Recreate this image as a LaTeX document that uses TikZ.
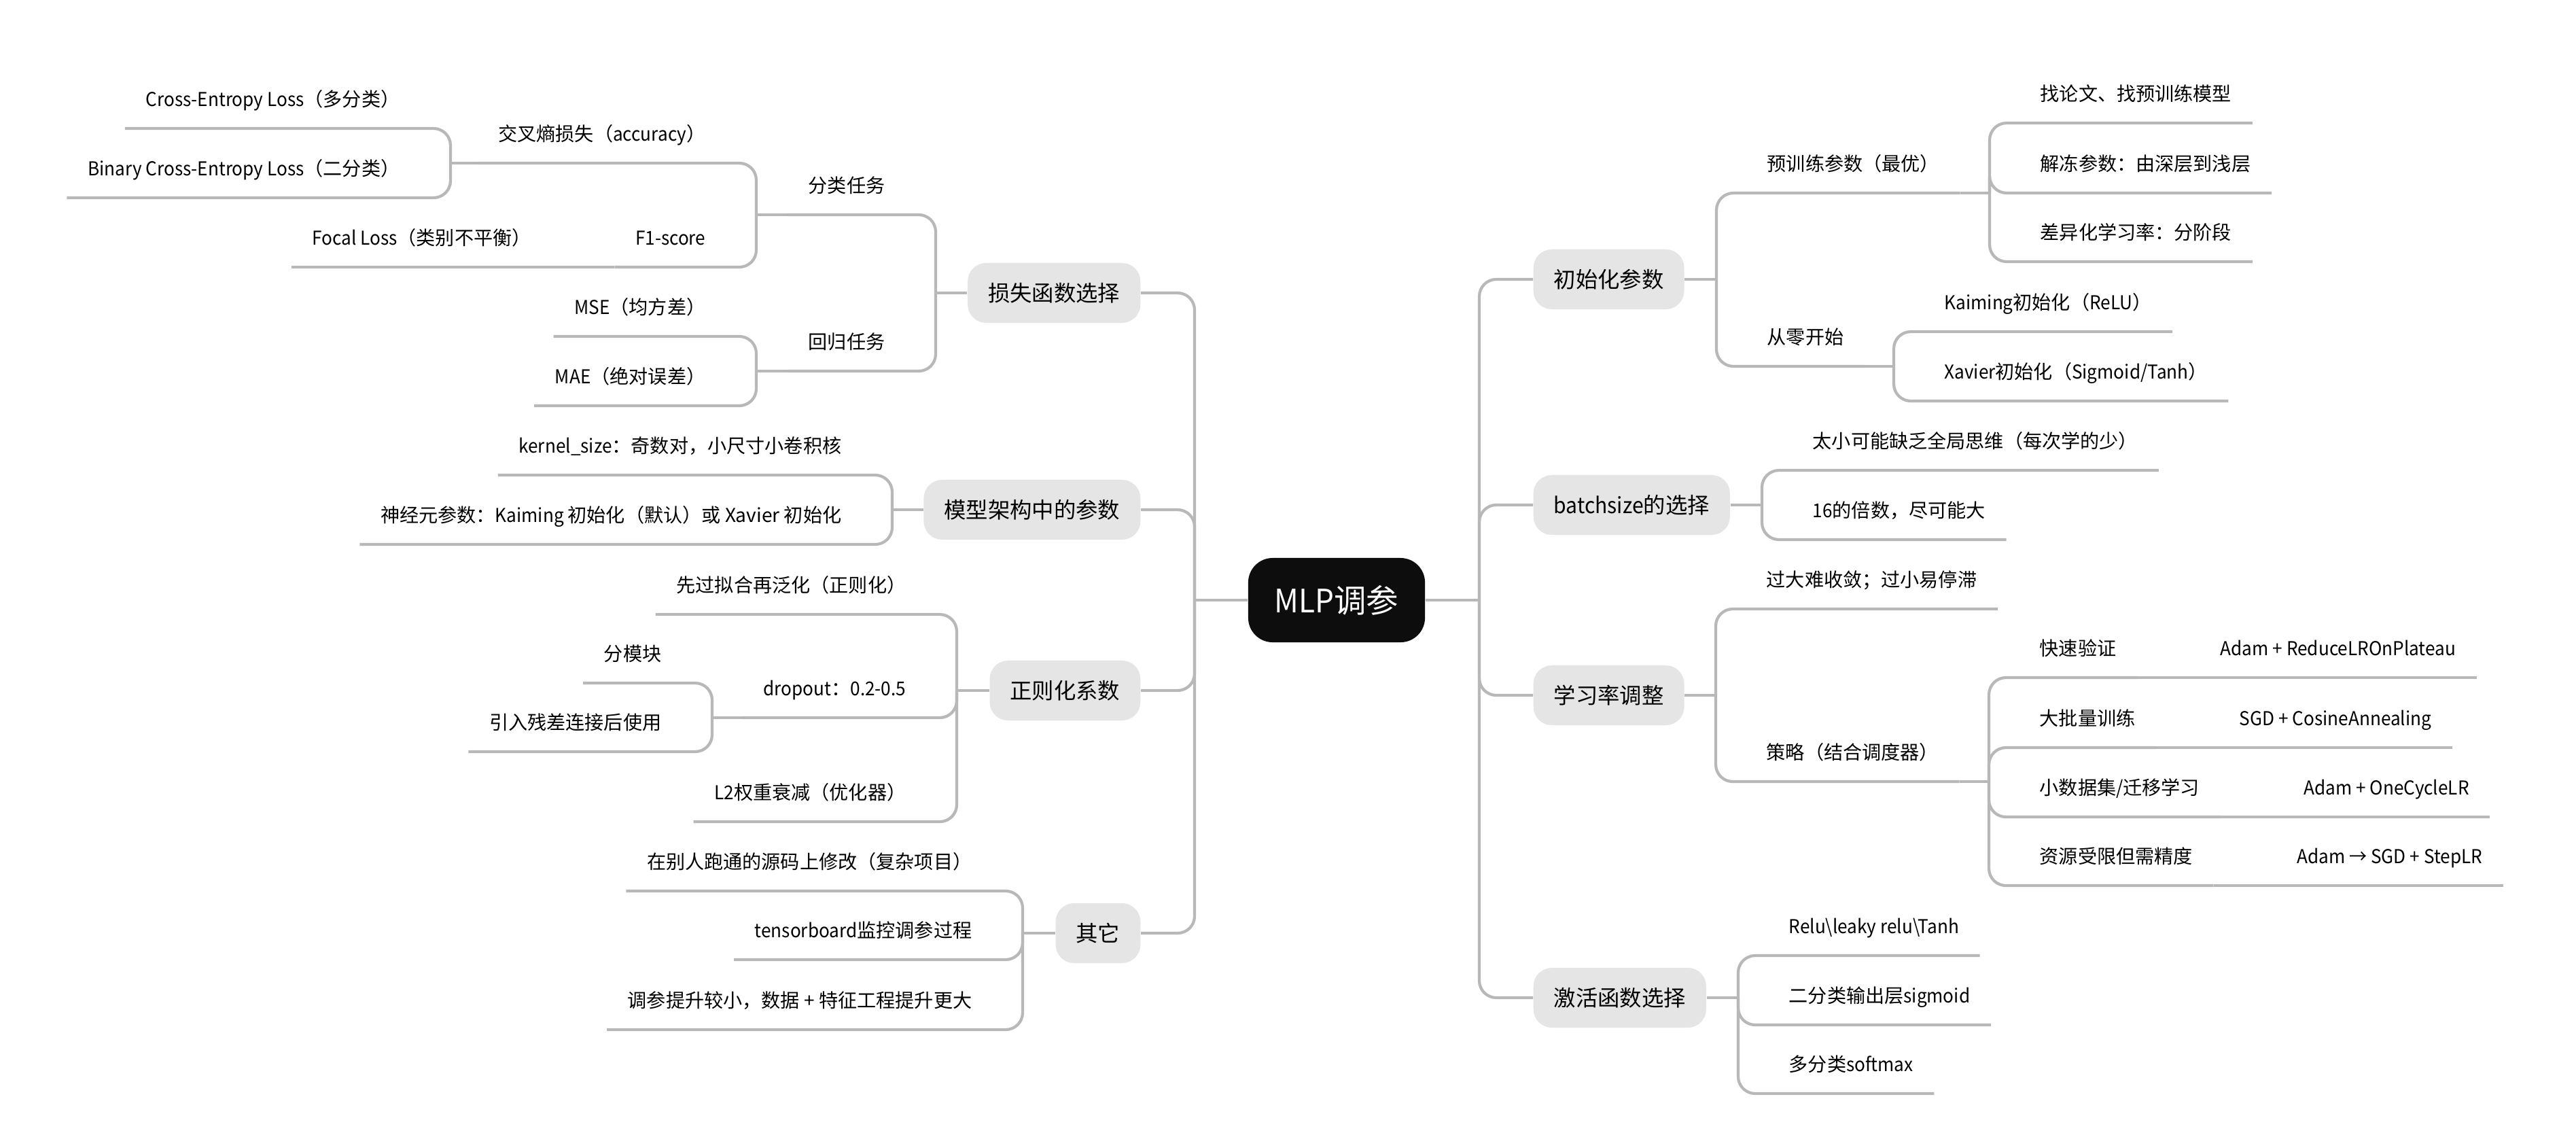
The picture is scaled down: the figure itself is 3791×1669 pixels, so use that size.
\documentclass[tikz,border=0pt]{standalone}
\usepackage{fontspec}
\setmainfont{Noto Sans CJK SC}[FakeStretch=0.93]
\newfontfamily\cjkfont{Noto Sans CJK SC}
\XeTeXinterchartokenstate=1
\newXeTeXintercharclass\cjkclass
\newcount\cjkcode
\cjkcode="3000
\loop\XeTeXcharclass\cjkcode=\cjkclass\advance\cjkcode by 1\relax\ifnum\cjkcode<"3040 \repeat
\cjkcode="4E00
\loop\XeTeXcharclass\cjkcode=\cjkclass\advance\cjkcode by 1\relax\ifnum\cjkcode<"A000 \repeat
\cjkcode="FF00
\loop\XeTeXcharclass\cjkcode=\cjkclass\advance\cjkcode by 1\relax\ifnum\cjkcode<"FF60 \repeat
\XeTeXinterchartoks 0 \cjkclass = {\cjkfont}
\XeTeXinterchartoks 4095 \cjkclass = {\cjkfont}
\XeTeXinterchartoks \cjkclass 0 = {\rmfamily}
\usetikzlibrary{positioning}
\definecolor{linegray}{HTML}{B8B8B8}
\definecolor{boxgray}{HTML}{E5E5E5}
\definecolor{rootblack}{HTML}{0D0D0D}

\begin{document}
\begin{tikzpicture}[
    x=0.01cm,y=-0.01cm,
    root/.style={rectangle,fill=rootblack,text=white,rounded corners=0.36cm,minimum width=2.6cm,minimum height=1.24cm,font=\fontsize{13.5}{16}\selectfont},
    topic/.style={rectangle,fill=boxgray,rounded corners=0.27cm,minimum height=0.88cm,inner xsep=0.3cm,font=\fontsize{9.2}{11}\selectfont},
    leaf/.style={inner xsep=0.3cm,inner ysep=9pt,text height=6.5pt,text depth=0pt,font=\fontsize{8}{10}\selectfont},
    rleaf/.style={leaf,anchor=south west},
    lleaf/.style={leaf,anchor=south east},
    branch/.style={draw=linegray,line width=1.2pt,rounded corners=0.25cm}
]
    \path[use as bounding box,fill=white] (0,0) rectangle (3791,1669);

    \node[root] (mlp) at (1967,883) {MLP调参};

    \node[topic,anchor=west] (init) at (2256,411) {初始化参数};
    \node[topic,anchor=west] (batch) at (2256,743) {batchsize的选择};
    \node[topic,anchor=west] (lr) at (2256,1023) {学习率调整};
    \node[topic,anchor=west] (act) at (2256,1468) {激活函数选择};

    \node[topic,anchor=east] (loss) at (1679,431) {损失函数选择};
    \node[topic,anchor=east] (arch) at (1679,750) {模型架构中的参数};
    \node[topic,anchor=east] (reg) at (1679,1016) {正则化系数};
    \node[topic,anchor=east] (misc) at (1679,1373) {其它};

    \coordinate (mlpR) at (2177,883);
    \coordinate (mlpL) at (1758,883);
    \coordinate (initJ) at (2526,411);
    \coordinate (preJ) at (2928,284);
    \coordinate (scratchJ) at (2787,539);
    \coordinate (batchJ) at (2593,743);
    \coordinate (lrJ) at (2525,1023);
    \coordinate (stratJ) at (2927,1150);
    \coordinate (actJ) at (2558,1468);
    \coordinate (lossJ) at (1377,431);
    \coordinate (clsJ) at (1113,316);
    \coordinate (ceJ) at (663,240);
    \coordinate (regrJ) at (1113,546);
    \coordinate (archJ) at (1313,750);
    \coordinate (regJ) at (1408,1016);
    \coordinate (dropJ) at (1048,1056);
    \coordinate (miscJ) at (1505,1373);

    \node[rleaf] (pre) at (2570,284) {预训练参数（最优）};
    \node[rleaf] (scratch) at (2570,539) {从零开始};
    \node[rleaf] (paper) at (2972,181) {找论文、找预训练模型};
    \node[rleaf] (unfreeze) at (2972,284) {解冻参数：由深层到浅层};
    \node[rleaf] (difflr) at (2972,385) {差异化学习率：分阶段};
    \node[rleaf] (kaiming) at (2831,488) {Kaiming初始化（ReLU）};
    \node[rleaf] (xavier) at (2831,590) {Xavier初始化（Sigmoid/Tanh）};
    \node[rleaf] (toosmall) at (2637,692) {太小可能缺乏全局思维（每次学的少）};
    \node[rleaf] (mult) at (2637,794) {16的倍数，尽可能大};
    \node[rleaf] (range) at (2569,896) {过大难收敛；过小易停滞};
    \node[rleaf] (strat) at (2569,1150) {策略（结合调度器）};
    \node[rleaf] (fast) at (2971,997) {快速验证};
    \node[rleaf,right=0.92cm of fast] (plateau) {Adam + ReduceLROnPlateau};
    \node[rleaf] (bigbatch) at (2971,1100) {大批量训练};
    \node[rleaf,right=0.92cm of bigbatch] (cosine) {SGD + CosineAnnealing};
    \node[rleaf] (smalldata) at (2971,1202) {小数据集/迁移学习};
    \node[rleaf,right=0.92cm of smalldata] (onecycle) {Adam + OneCycleLR};
    \node[rleaf] (limited) at (2971,1303) {资源受限但需精度};
    \node[rleaf,right=0.92cm of limited] (steplr) {Adam → SGD + StepLR};
    \node[rleaf] (relu) at (2602,1406) {Relu\textbackslash leaky relu\textbackslash Tanh};
    \node[rleaf] (sigmoid) at (2602,1508) {二分类输出层sigmoid};
    \node[rleaf] (softmax) at (2602,1609) {多分类softmax};

    \node[lleaf] (cls) at (1333,316) {分类任务};
    \node[lleaf] (regr) at (1333,546) {回归任务};
    \node[lleaf] (ce) at (1069,240) {交叉熵损失（accuracy）};
    \node[lleaf] (f1) at (1069,393) {F1-score};
    \node[lleaf,left=0.92cm of f1] (focal) {Focal Loss（类别不平衡）};
    \node[lleaf] (cemulti) at (619,189) {Cross-Entropy Loss（多分类）};
    \node[lleaf] (cebin) at (619,291) {Binary Cross-Entropy Loss（二分类）};
    \node[lleaf] (mse) at (1069,495) {MSE（均方差）};
    \node[lleaf] (mae) at (1069,597) {MAE（绝对误差）};
    \node[lleaf] (kernel) at (1269,699) {kernel\_size：奇数对，小尺寸小卷积核};
    \node[lleaf] (neuron) at (1269,801) {神经元参数：Kaiming 初始化（默认）或 Xavier 初始化};
    \node[lleaf] (overfit) at (1364,904) {先过拟合再泛化（正则化）};
    \node[lleaf] (dropout) at (1364,1056) {dropout：0.2-0.5};
    \node[lleaf] (l2) at (1364,1209) {L2权重衰减（优化器）};
    \node[lleaf] (module) at (1004,1005) {分模块};
    \node[lleaf] (resid) at (1004,1106) {引入残差连接后使用};
    \node[lleaf] (fork) at (1461,1311) {在别人跑通的源码上修改（复杂项目）};
    \node[lleaf] (tboard) at (1461,1412) {tensorboard监控调参过程};
    \node[lleaf] (gain) at (1461,1515) {调参提升较小，数据 + 特征工程提升更大};

    \draw[branch] (mlp.east) -- (mlpR);
    \foreach \n in {init,batch,lr,act} \draw[branch] (mlpR) |- (\n.west);
    \draw[branch] (mlp.west) -- (mlpL);
    \foreach \n in {loss,arch,reg,misc} \draw[branch] (mlpL) |- (\n.east);

    \draw[branch] (init.east) -- (initJ);
    \foreach \n in {pre,scratch} \draw[branch] (initJ) |- (\n.south east);
    \draw[branch] (pre.south east) -- (preJ);
    \foreach \n in {paper,unfreeze,difflr} \draw[branch] (preJ) |- (\n.south east);
    \draw[branch] (scratch.south east) -- (scratchJ);
    \foreach \n in {kaiming,xavier} \draw[branch] (scratchJ) |- (\n.south east);
    \draw[branch] (batch.east) -- (batchJ);
    \foreach \n in {toosmall,mult} \draw[branch] (batchJ) |- (\n.south east);
    \draw[branch] (lr.east) -- (lrJ);
    \foreach \n in {range,strat} \draw[branch] (lrJ) |- (\n.south east);
    \draw[branch] (strat.south east) -- (stratJ);
    \foreach \n in {fast,bigbatch,smalldata,limited} \draw[branch] (stratJ) |- (\n.south east);
    \foreach \a/\b in {fast/plateau,bigbatch/cosine,smalldata/onecycle,limited/steplr} \draw[branch] (\a.south east) -- (\b.south east);
    \draw[branch] (act.east) -- (actJ);
    \foreach \n in {relu,sigmoid,softmax} \draw[branch] (actJ) |- (\n.south east);

    \draw[branch] (loss.west) -- (lossJ);
    \foreach \n in {cls,regr} \draw[branch] (lossJ) |- (\n.south west);
    \draw[branch] (cls.south west) -- (clsJ);
    \foreach \n in {ce,f1} \draw[branch] (clsJ) |- (\n.south west);
    \draw[branch] (ce.south west) -- (ceJ);
    \foreach \n in {cemulti,cebin} \draw[branch] (ceJ) |- (\n.south west);
    \draw[branch] (f1.south west) -- (focal.south west);
    \draw[branch] (regr.south west) -- (regrJ);
    \foreach \n in {mse,mae} \draw[branch] (regrJ) |- (\n.south west);
    \draw[branch] (arch.west) -- (archJ);
    \foreach \n in {kernel,neuron} \draw[branch] (archJ) |- (\n.south west);
    \draw[branch] (reg.west) -- (regJ);
    \foreach \n in {overfit,dropout,l2} \draw[branch] (regJ) |- (\n.south west);
    \draw[branch] (dropout.south west) -- (dropJ);
    \foreach \n in {module,resid} \draw[branch] (dropJ) |- (\n.south west);
    \draw[branch] (misc.west) -- (miscJ);
    \foreach \n in {fork,tboard,gain} \draw[branch] (miscJ) |- (\n.south west);
\end{tikzpicture}
\end{document}
